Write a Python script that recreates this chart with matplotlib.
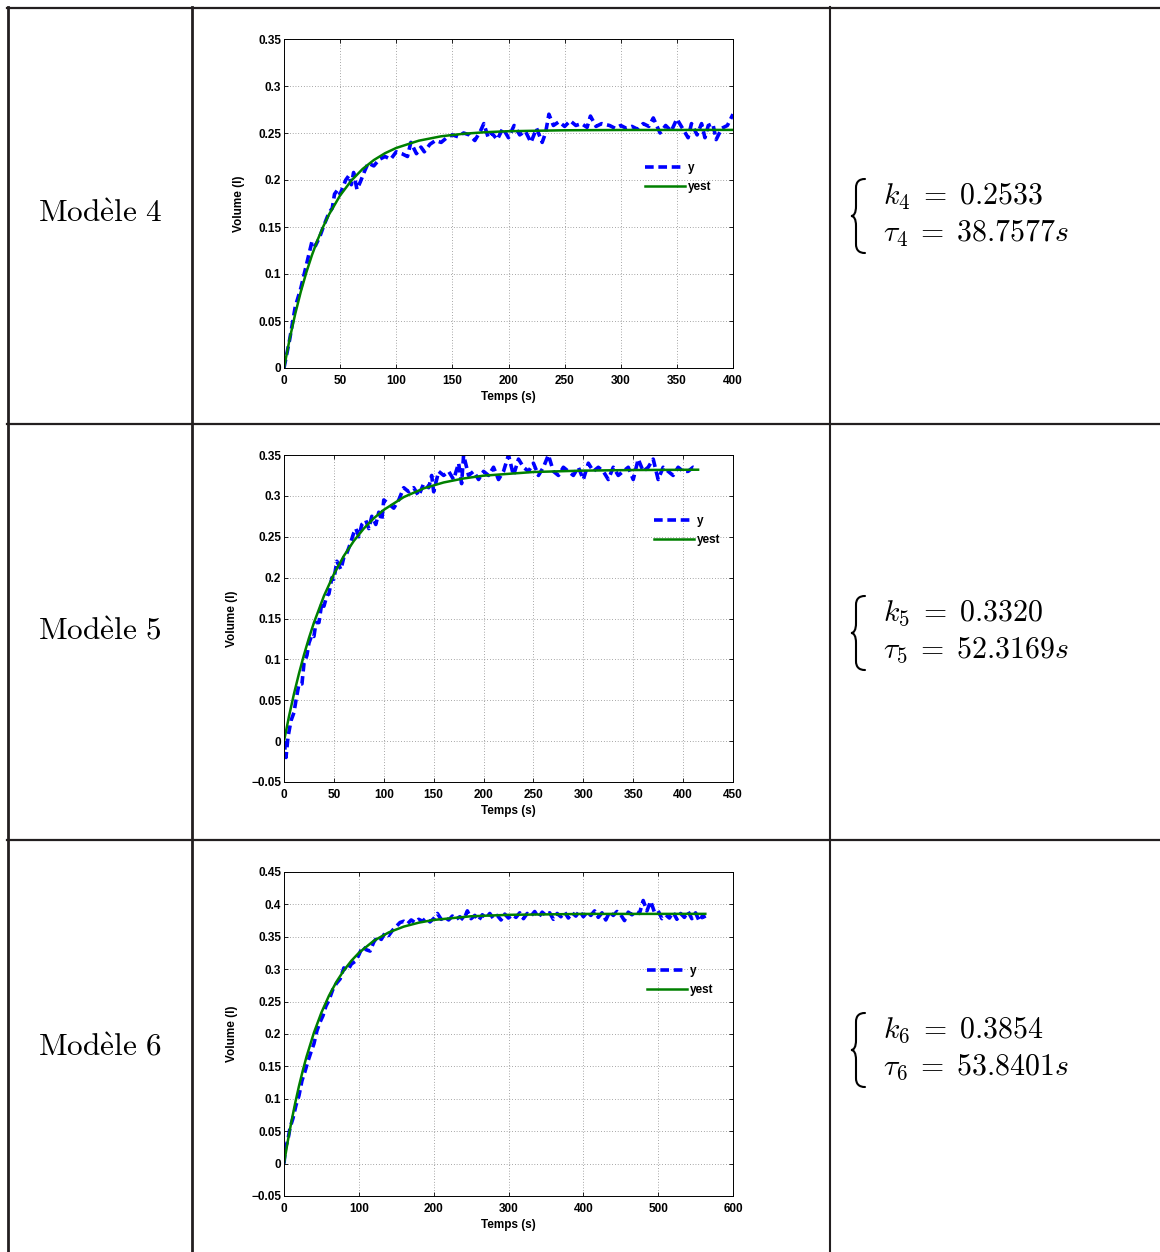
import matplotlib
matplotlib.use("Agg")
import matplotlib.pyplot as plt
from matplotlib.lines import Line2D
from matplotlib.path import Path
from matplotlib.patches import PathPatch

plt.rcParams["mathtext.fontset"] = "cm"
plt.rcParams["font.family"] = ["Liberation Sans", "DejaVu Sans"]

# ---- data ----
labels = ["Modèle 4", "Modèle 5", "Modèle 6"]
k_vals = ["0.2533", "0.3320", "0.3854"]
tau_vals = ["38.7577", "52.3169", "53.8401"]

t4 = [0, 5, 10, 15, 20, 25, 28, 32, 35, 40, 43, 45, 48, 50, 55, 58, 60, 62, 65, 68,
      72, 75, 80, 85, 90, 95, 100, 105, 110, 113, 118, 122, 125, 130, 135, 140, 145,
      150, 155, 160, 165, 170, 175, 178, 182, 185, 190, 195, 200, 205, 210, 215, 220,
      225, 230, 233, 236, 240, 245, 250, 255, 260, 265, 270, 273, 278, 283, 290, 295,
      300, 305, 310, 315, 320, 325, 329, 335, 340, 345, 350, 355, 360, 363, 368, 372,
      375, 378, 382, 385, 390, 395, 400]
y4 = [0.0, 0.03, 0.065, 0.085, 0.11, 0.135, 0.13, 0.14, 0.15, 0.165, 0.17, 0.185, 0.19,
      0.185, 0.2, 0.205, 0.195, 0.208, 0.19, 0.198, 0.21, 0.218, 0.215, 0.222, 0.225,
      0.222, 0.23, 0.228, 0.225, 0.24, 0.228, 0.235, 0.23, 0.238, 0.242, 0.24, 0.245,
      0.248, 0.246, 0.25, 0.248, 0.242, 0.252, 0.26, 0.245, 0.25, 0.243, 0.255, 0.245,
      0.258, 0.248, 0.252, 0.24, 0.255, 0.24, 0.25, 0.27, 0.258, 0.262, 0.257, 0.263,
      0.258, 0.26, 0.256, 0.268, 0.257, 0.26, 0.258, 0.255, 0.258, 0.255, 0.257, 0.254,
      0.26, 0.257, 0.266, 0.25, 0.258, 0.252, 0.265, 0.255, 0.245, 0.26, 0.248, 0.26,
      0.245, 0.258, 0.26, 0.243, 0.255, 0.258, 0.27]
te4 = [0, 5, 10, 15, 20, 25, 30, 35, 40, 50, 60, 70, 80, 90, 100, 120, 140, 160, 180,
       200, 250, 300, 400]
ye4 = [0.0, 0.0307, 0.0576, 0.0813, 0.1021, 0.1204, 0.1365, 0.1506, 0.1631, 0.1836,
       0.1994, 0.2117, 0.2212, 0.2285, 0.2341, 0.2418, 0.2465, 0.2492, 0.2509, 0.2519,
       0.2529, 0.2532, 0.2533]

t5 = [0, 2, 4, 7, 10, 12, 15, 18, 20, 23, 25, 28, 30, 32, 35, 38, 40, 43, 45, 48, 50,
      53, 57, 60, 63, 66, 70, 72, 75, 78, 82, 85, 88, 92, 95, 98, 100, 105, 110, 115,
      120, 125, 130, 135, 140, 145, 148, 150, 155, 160, 165, 170, 175, 178, 180, 185,
      190, 195, 200, 205, 210, 215, 220, 225, 230, 235, 240, 245, 250, 255, 260, 265,
      270, 275, 280, 285, 290, 295, 300, 305, 310, 315, 320, 325, 330, 335, 340, 345,
      350, 355, 360, 365, 370, 375, 380, 385, 390, 395, 400, 405, 410, 414]
y5 = [0.0, -0.02, 0.005, 0.025, 0.035, 0.05, 0.07, 0.07, 0.095, 0.105, 0.12, 0.13, 0.128,
      0.145, 0.145, 0.17, 0.165, 0.178, 0.18, 0.2, 0.198, 0.22, 0.21, 0.225, 0.23, 0.24,
      0.255, 0.26, 0.25, 0.265, 0.27, 0.26, 0.275, 0.265, 0.28, 0.27, 0.295, 0.29,
      0.285, 0.295, 0.31, 0.305, 0.31, 0.3, 0.315, 0.31, 0.325, 0.305, 0.33, 0.325,
      0.33, 0.32, 0.34, 0.315, 0.35, 0.325, 0.33, 0.32, 0.33, 0.325, 0.335, 0.32, 0.33,
      0.35, 0.325, 0.345, 0.335, 0.33, 0.34, 0.325, 0.335, 0.35, 0.33, 0.325, 0.335,
      0.33, 0.325, 0.335, 0.32, 0.34, 0.33, 0.335, 0.33, 0.32, 0.335, 0.325, 0.33,
      0.335, 0.32, 0.345, 0.33, 0.335, 0.345, 0.32, 0.335, 0.33, 0.325, 0.335, 0.33,
      0.33, 0.335, 0.333]
te5 = [0, 5, 10, 15, 20, 25, 30, 40, 50, 60, 70, 80, 90, 100, 120, 140, 160, 180, 200,
       250, 300, 350, 415]
ye5 = [0.0, 0.0303, 0.0579, 0.0827, 0.1055, 0.1261, 0.1449, 0.1775, 0.2043, 0.2266,
       0.2449, 0.2601, 0.2726, 0.2829, 0.2985, 0.3092, 0.3164, 0.3213, 0.3247, 0.3292,
       0.3309, 0.3316, 0.332]

t6 = [0, 2, 5, 8, 12, 16, 20, 24, 28, 32, 36, 40, 44, 48, 52, 56, 60, 65, 70, 75, 80,
      85, 90, 95, 100, 105, 110, 115, 120, 125, 130, 135, 140, 145, 150, 155,
      160, 165, 170, 175, 180, 185, 190, 195, 200, 205, 210, 215, 220, 225, 230, 235,
      240, 245, 250, 255, 260, 265, 270, 275, 280, 285, 290, 295, 300, 305, 310, 315,
      320, 325, 330, 335, 340, 345, 350, 355, 360, 365, 370, 375, 380, 385, 390, 395,
      400, 405, 410, 415, 420, 425, 430, 435, 440, 445, 450, 455, 460, 465, 470, 475,
      480, 485, 490, 495, 500, 505, 510, 515, 520, 525, 530, 535, 540, 545, 550, 555,
      560, 563]
y6 = [0.0, 0.025, 0.035, 0.055, 0.07, 0.09, 0.105, 0.128, 0.142, 0.158, 0.172, 0.185,
      0.205, 0.218, 0.228, 0.243, 0.252, 0.268, 0.278, 0.285, 0.302, 0.298, 0.308, 0.312,
      0.322, 0.335, 0.33, 0.328, 0.342, 0.35, 0.346, 0.356, 0.352, 0.36, 0.366, 0.372,
      0.374, 0.37, 0.376, 0.372, 0.377, 0.374, 0.379, 0.373, 0.378, 0.386, 0.377, 0.38,
      0.376, 0.382, 0.377, 0.381, 0.376, 0.39, 0.378, 0.383, 0.375, 0.384, 0.379, 0.386,
      0.378, 0.383, 0.376, 0.385, 0.379, 0.384, 0.38, 0.387, 0.378, 0.386, 0.382, 0.389,
      0.38, 0.388, 0.383, 0.387, 0.377, 0.386, 0.381, 0.388, 0.379, 0.387, 0.382, 0.39,
      0.381, 0.388, 0.383, 0.39, 0.38, 0.387, 0.376, 0.388, 0.383, 0.389, 0.384, 0.375,
      0.388, 0.384, 0.389, 0.386, 0.406, 0.39, 0.405, 0.388, 0.39, 0.378, 0.384, 0.379,
      0.388, 0.377, 0.386, 0.38, 0.389, 0.378, 0.387, 0.374, 0.384, 0.377]
te6 = [0, 5, 10, 15, 20, 25, 30, 40, 50, 60, 70, 80, 90, 100, 120, 140, 160, 180, 200,
       250, 300, 400, 563]
ye6 = [0.0, 0.0342, 0.0653, 0.0937, 0.1196, 0.1431, 0.1646, 0.2021, 0.2331, 0.2589,
       0.2804, 0.2982, 0.313, 0.3252, 0.3439, 0.3568, 0.3657, 0.3718, 0.376, 0.3817,
       0.3839, 0.3853, 0.3854]

series = [(t4, y4, te4, ye4), (t5, y5, te5, ye5), (t6, y6, te6, ye6)]
xlims = [(0, 400), (0, 450), (0, 600)]
xticks = [list(range(0, 401, 50)), list(range(0, 451, 50)), list(range(0, 601, 100))]
ylims = [(0, 0.35), (-0.05, 0.35), (-0.05, 0.45)]
yticks = [[0, 0.05, 0.1, 0.15, 0.2, 0.25, 0.3, 0.35],
          [-0.05, 0, 0.05, 0.1, 0.15, 0.2, 0.25, 0.3, 0.35],
          [-0.05, 0, 0.05, 0.1, 0.15, 0.2, 0.25, 0.3, 0.35, 0.4, 0.45]]

W, H = 1160, 1252
fig = plt.figure(figsize=(W / 100, H / 100), dpi=100)


def fx(px):
    return px / W


def fy(py):
    return 1 - py / H


# axes boxes in pixels: left, top, right, bottom
boxes = [(284, 39, 733, 368), (284, 455, 733, 782), (284, 872, 733, 1196)]
legend_pos = [(0.79, 0.645), (0.81, 0.835), (0.795, 0.73)]
row_mid = [214, 631, 1048]
ylabel_x = [245, 238, 238]


def tick_fmt(v):
    if v == 0:
        return "0"
    return f"{v:g}".replace("-", "\u2212")


def brace(cx, cy):
    # left curly brace, drawn in pixel coordinates around its middle tip
    pts = [(14, -37), (8, -37), (5, -34), (5, -28), (5, -10), (5, -3), (3, 0), (0, 0),
           (3, 0), (5, 3), (5, 10), (5, 28), (5, 34), (8, 37), (14, 37)]
    codes = [Path.MOVETO, Path.CURVE4, Path.CURVE4, Path.CURVE4, Path.LINETO,
             Path.CURVE4, Path.CURVE4, Path.CURVE4, Path.CURVE4, Path.CURVE4,
             Path.CURVE4, Path.LINETO, Path.CURVE4, Path.CURVE4, Path.CURVE4]
    verts = [(fx(cx + dx), fy(cy + dy)) for dx, dy in pts]
    fig.add_artist(PathPatch(Path(verts, codes), fill=False, lw=1.5, color="black",
                             transform=fig.transFigure, capstyle="round"))


for i, (t, y, te, ye) in enumerate(series):
    l, tp, r, b = boxes[i]
    ax = fig.add_axes([fx(l), fy(b), fx(r - l), (b - tp) / H])
    ax.plot(t, y, color="#0000ff", lw=2.6, ls=(0, (2.4, 1.3)), label="y")
    ax.plot(te, ye, color="#008000", lw=1.8, label="yest")
    ax.set_xlim(*xlims[i])
    ax.set_ylim(*ylims[i])
    ax.set_xticks(xticks[i])
    ax.set_yticks(yticks[i])
    ax.set_xticklabels([tick_fmt(v) for v in xticks[i]], fontsize=8.5, fontweight="bold")
    ax.set_yticklabels([tick_fmt(v) for v in yticks[i]], fontsize=8.5, fontweight="bold")
    ax.tick_params(direction="in", length=3, width=0.6, top=True, right=True)
    ax.tick_params(axis="x", pad=5)
    ax.tick_params(axis="y", pad=2)
    ax.grid(True, ls=(0, (1, 3)), color="#555555", lw=0.5)
    for sp in ax.spines.values():
        sp.set_linewidth(0.7)
    ax.set_xlabel("Temps (s)", fontsize=8.5, fontweight="bold", labelpad=3)
    ax.set_ylabel("Volume (l)", fontsize=8.5, fontweight="bold")
    ax.yaxis.set_label_coords((ylabel_x[i] - l) / (r - l), 0.5)
    ax.legend(loc="upper left", bbox_to_anchor=legend_pos[i], frameon=False,
              prop={"weight": "bold", "size": 8.5}, handlelength=3.4,
              handletextpad=0.25, labelspacing=0.6, borderpad=0)

    # row label and parameters
    n = i + 4
    fig.text(fx(100), fy(row_mid[i]), r"$\mathrm{Mod\grave{e}le\ %d}$" % n,
             fontsize=22.5, ha="center", va="center")
    fig.text(fx(883), fy(row_mid[i] - 18), r"$k_%d \;=\; %s$" % (n, k_vals[i]),
             fontsize=21.5, ha="left", va="center")
    fig.text(fx(883), fy(row_mid[i] + 19), r"$\tau_%d \;=\; %ss$" % (n, tau_vals[i]),
             fontsize=21.5, ha="left", va="center")
    brace(851, row_mid[i] + 2)

# table rules
rule = "#231f20"
for py in [8, 424, 840]:
    fig.add_artist(Line2D([fx(7), 1], [fy(py), fy(py)], color=rule, lw=1.6))
for px, lw in [(8, 2.0), (192, 2.0), (830, 1.5)]:
    fig.add_artist(Line2D([fx(px), fx(px)], [fy(7), 0], color=rule, lw=lw))

fig.savefig("out.png", dpi=100)
